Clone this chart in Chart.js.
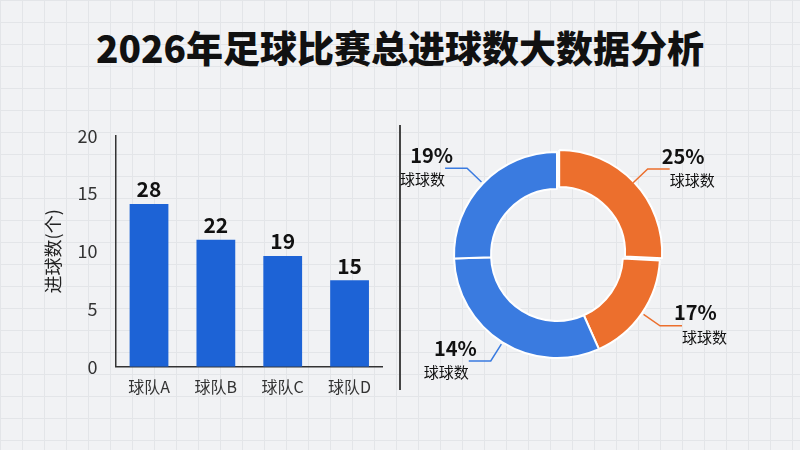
<!DOCTYPE html>
<html><head><meta charset="utf-8">
<script src="https://cdn.jsdelivr.net/npm/chart.js@4"></script>
<style>
body{margin:0;width:800px;height:450px;overflow:hidden;font-family:"Noto Sans CJK SC",sans-serif;
background-color:#f1f2f4;
background-image:linear-gradient(#e3e5e8 1px,transparent 1px),linear-gradient(90deg,#e3e5e8 1px,transparent 1px);
background-size:22px 22px;}
h1{position:absolute;top:20px;left:0;width:800px;text-align:center;margin:0;font-size:37px;font-weight:900;color:#111;}
#bw{position:absolute;left:38px;top:115px;width:345px;height:285px}
#dw{position:absolute;left:357px;top:105px;width:400px;height:300px}
#div{position:absolute;left:399px;top:125px;width:2px;height:265px;background:#444}
</style></head><body>
<h1>2026年足球比赛总进球数大数据分析</h1>
<div id="div"></div>
<div id="bw"><canvas id="bar"></canvas></div>
<div id="dw"><canvas id="dn"></canvas></div>
<script>
const teams=["球队A","球队B","球队C","球队D"];
const barHeights=[14.1,11.0,9.6,7.5];
const barLabels=["28","22","19","15"];
const yTicks=[0,5,10,15,20];
const sliceShares=[93,63,112,92];
const sliceLabels=["25%","17%","14%","19%"];
const sliceNames=["球球数","球球数","球球数","球球数"];
const sliceColors=["#ec6f2d","#ec6f2d","#3a7be0","#3a7be0"];
const F="'Noto Sans CJK SC',sans-serif";

const barLbl={id:'bl',afterDatasetsDraw(c){const x=c.ctx;x.save();x.font="bold 21px "+F;x.fillStyle="#111";x.textAlign="center";x.textBaseline="bottom";
c.getDatasetMeta(0).data.forEach((b,i)=>x.fillText(barLabels[i],b.x,b.y-4));x.restore();}};
new Chart(document.getElementById('bar'),{type:'bar',data:{labels:teams,datasets:[{data:barHeights,backgroundColor:"#1d63d6",barPercentage:0.58,categoryPercentage:1}]},
options:{responsive:true,maintainAspectRatio:false,animation:false,layout:{padding:{top:10}},
plugins:{legend:{display:false},tooltip:{enabled:false}},
scales:{y:{min:0,max:20,afterBuildTicks(a){a.ticks=yTicks.map(v=>({value:v}))},grid:{display:false},border:{color:"#333",width:1.5},
ticks:{color:"#333",font:{size:18,family:F},padding:10},title:{display:true,text:"进球数(个)",color:"#222",font:{size:18,family:F}}},
x:{grid:{display:false},border:{color:"#333",width:1.5},ticks:{color:"#333",font:{size:16,family:F}}}}},plugins:[barLbl]});

const dnLbl={id:'dl',afterDatasetsDraw(c){const x=c.ctx;x.save();
c.getDatasetMeta(0).data.forEach((a,i)=>{const m=(a.startAngle+a.endAngle)/2,r=a.outerRadius;
const cx=a.x,cy=a.y,c1=Math.cos(m),s1=Math.sin(m);
const p0=[cx+c1*(r+2),cy+s1*(r+2)],p1=[cx+c1*(r+22),cy+s1*(r+22)];const dir=c1>=0?1:-1;const p2=[p1[0]+dir*22,p1[1]];
x.strokeStyle=sliceColors[i];x.lineWidth=1.5;x.beginPath();x.moveTo(...p0);x.lineTo(...p1);x.lineTo(...p2);x.stroke();
x.fillStyle="#111";x.textAlign=dir>0?"left":"right";
x.font="bold 20px "+F;x.textBaseline="bottom";x.fillText(sliceLabels[i],p2[0]-dir*8,p2[1]-3);
x.font="15px "+F;x.textBaseline="top";x.fillText(sliceNames[i],p2[0],p2[1]+4);});x.restore();}};
new Chart(document.getElementById('dn'),{type:'doughnut',data:{labels:sliceLabels,datasets:[{data:sliceShares,backgroundColor:sliceColors,borderColor:"#fff",borderWidth:2,offset:[12,0,0,0]}]},
options:{responsive:true,maintainAspectRatio:false,animation:false,radius:103,cutout:"64%",
plugins:{legend:{display:false},tooltip:{enabled:false}}},plugins:[dnLbl]});
</script></body></html>
